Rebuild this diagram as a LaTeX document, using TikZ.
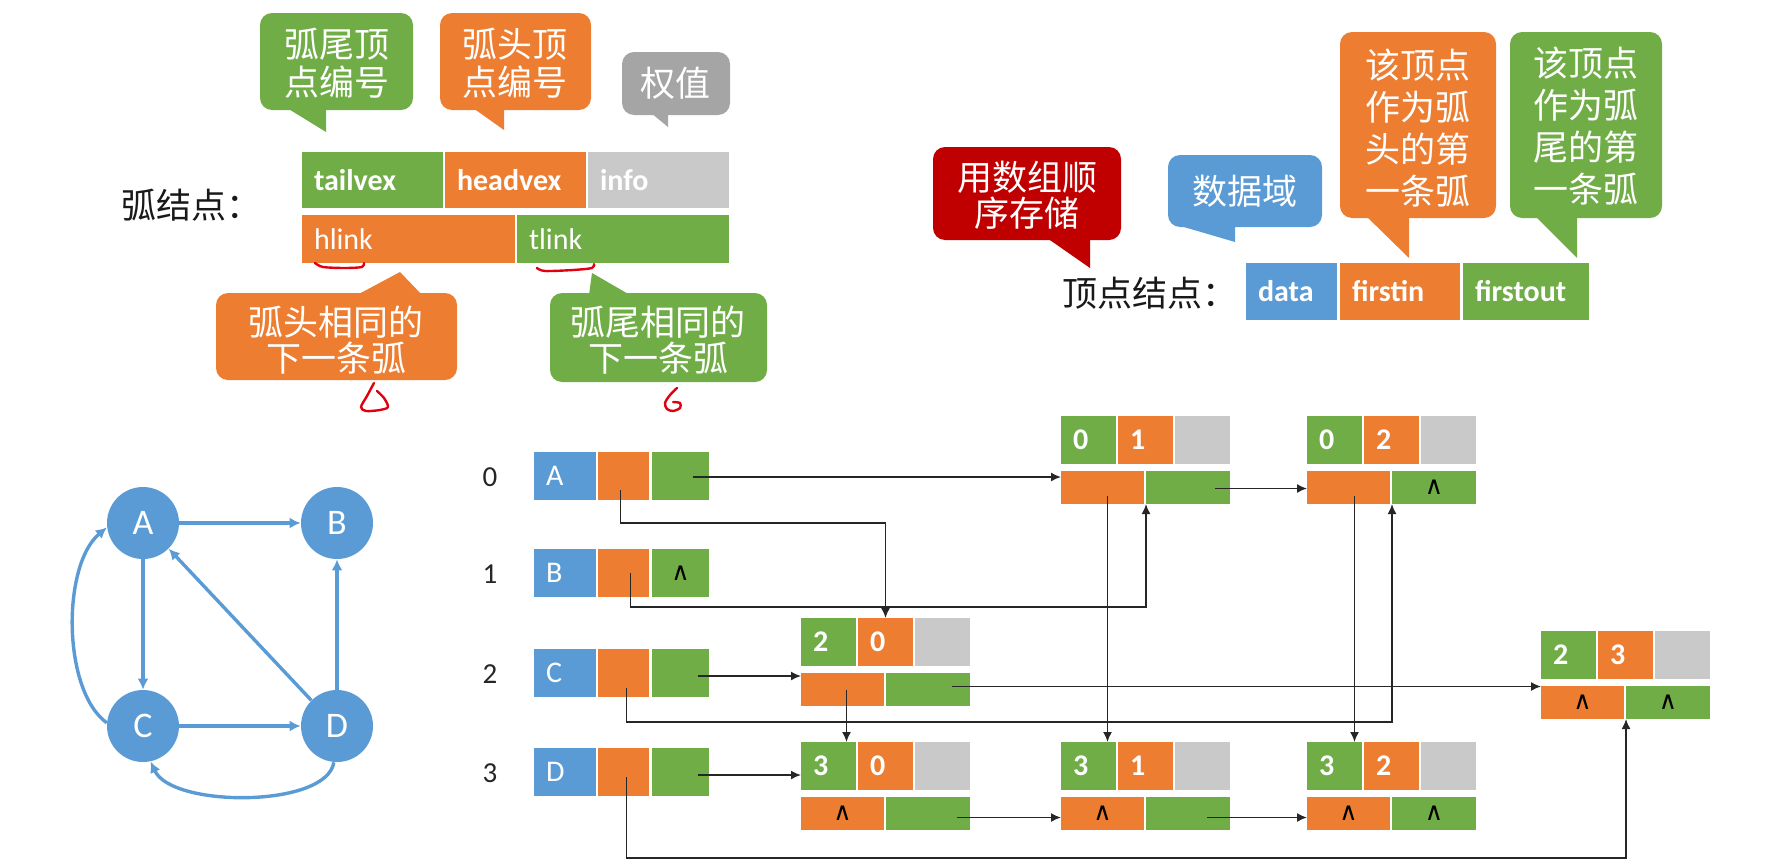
\documentclass[tikz,border=0pt]{standalone}
\usepackage{fontspec}
\setmainfont{Carlito}
\newfontfamily\cjk{Noto Sans CJK SC}
\newfontfamily\dejavu{DejaVu Sans}
\usetikzlibrary{arrows.meta,calc}
\definecolor{cgreen}{HTML}{70AD47}
\definecolor{corange}{HTML}{ED7D31}
\definecolor{cgray}{HTML}{C9C9C9}
\definecolor{cblue}{HTML}{5B9BD5}
\definecolor{cred}{HTML}{C00000}
\definecolor{cgraycall}{HTML}{A5A5A5}
\definecolor{cink}{HTML}{E00010}
\tikzset{
  cellsty/.style={anchor=north west, inner xsep=6pt, inner ysep=0pt, outer sep=0pt, text=white},
  lblB/.style={font=\fontsize{15}{18}\selectfont\bfseries},
  lbl/.style={font=\fontsize{15}{18}\selectfont},
  vlet/.style={font=\fontsize{15}{17}\selectfont},
  dig/.style={font=\fontsize{15}{17}\selectfont\bfseries},
  nul/.style={font=\dejavu\fontsize{12.5}{14}\selectfont, text=black},
  idx/.style={font=\fontsize{14.5}{17}\selectfont, text=black!85},
  link/.style={draw=black!85, line width=0.8pt, -{Latex[length=5pt,width=4.5pt]}},
  gnode/.style={circle, fill=cblue, minimum size=36pt, inner sep=0pt, text=white, font=\fontsize{18}{20}\selectfont},
  gedge/.style={draw=cblue, line width=1.7pt, -{Latex[length=5.5pt,width=5.5pt]}},
  ctext/.style={text=white, align=center, inner sep=0pt},
  cjkA/.style={font=\cjk\fontsize{17.5}{19}\selectfont},
  cjkB/.style={font=\cjk\fontsize{17.5}{21}\selectfont},
  cjkC/.style={font=\cjk\fontsize{17.5}{18}\selectfont},
  caption/.style={font=\cjk\fontsize{17.5}{20}\selectfont, text=black!90, anchor=west, inner sep=0pt},
  bubble/.style={rounded corners=6pt},
  redmark/.style={draw=cink, line width=1.2pt, line cap=round, line join=round},
}
\newcommand{\cellnode}[8]{%
  \pgfmathsetlengthmacro\cw{(#4)*0.5pt}%
  \pgfmathsetlengthmacro\ch{(#5)*0.5pt}%
  \pgfmathsetlengthmacro\tw{(#4)*0.5pt-12pt}%
  \node[cellsty, fill=#6, minimum width=\cw, minimum height=\ch, text width=\tw, #7] (#1) at (#2,#3) {#8};%
}
\newcommand{\nulsym}{∧}
\newcommand{\arcnode}[7]{%
  \cellnode{#1t}{#2}{#3}{55}{48}{cgreen}{dig,align=left}{#4}%
  \cellnode{#1h}{#2+57}{#3}{55}{48}{corange}{dig,align=left}{#5}%
  \cellnode{#1i}{#2+114}{#3}{55}{48}{cgray}{}{}%
  \cellnode{#1hl}{#2}{#3+55}{83}{33}{corange}{nul,align=center}{#6}%
  \cellnode{#1tl}{#2+85}{#3+55}{84}{33}{cgreen}{nul,align=center}{#7}%
}
\begin{document}
\begin{tikzpicture}[x=0.5pt,y=-0.5pt]
\useasboundingbox (0,0) rectangle (1786,867);

% ---------- callouts (top left) ----------
\fill[cgreen,bubble] (260,13) rectangle (413,110);
\fill[cgreen] (287,108) -- (326,132) -- (326,108) -- cycle;
\node[ctext,cjkA] (cbTail) at (337,63) {弧尾顶\\点编号};

\fill[corange,bubble] (440,13) rectangle (591,110);
\fill[corange] (473,108) -- (504,130) -- (504,108) -- cycle;
\node[ctext,cjkA] (cbHead) at (515,63) {弧头顶\\点编号};

\fill[cgraycall,bubble] (622,52) rectangle (730,115);
\fill[cgraycall] (651,113) -- (668,127) -- (668,113) -- cycle;
\node[ctext,cjkA] (cbInfo) at (675,83) {权值};

% ---------- arc node template ----------
\node[caption] (capArc) at (121,205) {弧结点：};
\cellnode{ttail}{302}{152}{141}{56}{cgreen}{lblB,align=left}{tailvex}
\cellnode{thead}{445}{152}{141}{56}{corange}{lblB,align=left}{headvex}
\cellnode{tinfo}{588}{152}{141}{56}{cgray}{lblB,align=left}{info}
\cellnode{thl}{302}{215}{213}{48}{corange}{lbl,align=left}{hlink}
\cellnode{ttl}{517}{215}{212}{48}{cgreen}{lbl,align=left}{tlink}

% red hand marks
\draw[redmark] plot[smooth] coordinates {(315,263) (323,267) (345,268) (362,267) (364,263)};
\draw[redmark] plot[smooth] coordinates {(537,268) (545,271) (573,270) (592,268) (594,264)};

% ---------- callouts (bottom left) ----------
\fill[corange,bubble] (216,293) rectangle (457,380);
\fill[corange] (357,295) -- (400,272) -- (422,295) -- cycle;
\node[ctext,cjkC] (cbHlink) at (336,340) {弧头相同的\\下一条弧};

\fill[cgreen,bubble] (550,293) rectangle (767,382);
\fill[cgreen] (589,295) -- (592,273) -- (630,295) -- cycle;
\node[ctext,cjkC] (cbTlink) at (658,340) {弧尾相同的\\下一条弧};

\draw[redmark] plot[smooth] coordinates {(374,383) (367,396) (361,407) (366,411) (380,410) (388,407) (384,398) (377,391)};
\draw[redmark] plot[smooth] coordinates {(677,388) (670,395) (665,403) (667,409) (673,411) (680,408) (680,403) (673,402)};

% ---------- callouts (top right) ----------
\fill[cred,bubble] (933,147) rectangle (1121,240);
\fill[cred] (1047,238) -- (1090,268) -- (1090,238) -- cycle;
\node[ctext,cjkC] (cbArr) at (1027,195) {用数组顺\\序存储};

\fill[cblue,bubble] (1168,155) rectangle (1322,227);
\fill[cblue] (1177,225) -- (1235,242) -- (1235,225) -- cycle;
\node[ctext,cjkA] (cbData) at (1245,191) {数据域};

\fill[corange,bubble] (1340,32) rectangle (1496,218);
\fill[corange] (1366,216) -- (1409,258) -- (1409,216) -- cycle;
\node[ctext,cjkB] (cbIn) at (1418,128) {该顶点\\作为弧\\头的第\\一条弧};

\fill[cgreen,bubble] (1510,32) rectangle (1662,218);
\fill[cgreen] (1535,216) -- (1577,258) -- (1577,216) -- cycle;
\node[ctext,cjkB] (cbOut) at (1586,126) {该顶点\\作为弧\\尾的第\\一条弧};

% ---------- vertex node template ----------
\node[caption] (capVex) at (1062,293) {顶点结点：};
\cellnode{tdata}{1246}{263}{91}{57}{cblue}{lblB,align=left}{data}
\cellnode{tfin}{1340}{263}{120}{57}{corange}{lblB,align=left}{firstin}
\cellnode{tfout}{1463}{263}{126}{57}{cgreen}{lblB,align=left}{firstout}

% ---------- graph ----------
\node[gnode] (A) at (143,523) {A};
\node[gnode] (B) at (337,523) {B};
\node[gnode] (C) at (143,726) {C};
\node[gnode] (D) at (337,726) {D};
\draw[gedge] (A) -- (B);
\draw[gedge] (A) -- (C);
\draw[gedge] (C) -- (D);
\draw[gedge] (D) -- (B);
\draw[gedge] (D.135) -- (A.315);
\draw[gedge] (C.175) .. controls (62,690) and (62,565) .. (A.187);
\draw[gedge] (D.265) .. controls (327,808) and (172,808) .. (C.282);

% ---------- vertex array ----------
\node[idx] (i0) at (490,477) {0};
\node[idx] (i1) at (490,574) {1};
\node[idx] (i2) at (490,674) {2};
\node[idx] (i3) at (490,773) {3};
\cellnode{vAd}{534}{452}{62}{48}{cblue}{vlet,align=left}{A}
\cellnode{vAin}{598}{452}{51}{48}{corange}{}{}
\cellnode{vAout}{652}{452}{57}{48}{cgreen}{nul,align=center}{}
\cellnode{vBd}{534}{549}{62}{48}{cblue}{vlet,align=left}{B}
\cellnode{vBin}{598}{549}{51}{48}{corange}{}{}
\cellnode{vBout}{652}{549}{57}{48}{cgreen}{nul,align=center}{\nulsym}
\cellnode{vCd}{534}{649}{62}{48}{cblue}{vlet,align=left}{C}
\cellnode{vCin}{598}{649}{51}{48}{corange}{}{}
\cellnode{vCout}{652}{649}{57}{48}{cgreen}{nul,align=center}{}
\cellnode{vDd}{534}{748}{62}{48}{cblue}{vlet,align=left}{D}
\cellnode{vDin}{598}{748}{51}{48}{corange}{}{}
\cellnode{vDout}{652}{748}{57}{48}{cgreen}{nul,align=center}{}

% ---------- arc nodes ----------
\arcnode{a01}{1061}{416}{0}{1}{}{}
\arcnode{a02}{1307}{416}{0}{2}{}{\nulsym}
\arcnode{a20}{801}{618}{2}{0}{}{}
\arcnode{a23}{1541}{631}{2}{3}{\nulsym}{\nulsym}
\arcnode{a30}{801}{742}{3}{0}{\nulsym}{}
\arcnode{a31}{1061}{742}{3}{1}{\nulsym}{}
\arcnode{a32}{1307}{742}{3}{2}{\nulsym}{\nulsym}

% ---------- links ----------
\coordinate (s1) at ($(vAin.center)+(-3,14)$);
\draw[link] (s1) -- ++(0,33) -| (a20h.north);
\coordinate (s2) at ($(vBin.center)+(7,0)$);
\draw[link] (s2) -- ++(0,34) -| (a01tl.south west);
\coordinate (s3) at ($(vCin.center)+(3,15)$);
\draw[link] (s3) -- ++(0,34) -| (a02tl.south west);
\coordinate (s4) at ($(vDin.center)+(3,5)$);
\draw[link] (s4) -- ++(0,81) -| (a23tl.south west);
\coordinate (s5) at ($(vAout.center)+(12,1)$);
\draw[link] (s5) -- (s5 -| a01hl.west);
\coordinate (s6) at ($(a01tl.center)+(27,1)$);
\draw[link] (s6) -- (s6 -| a02hl.west);
\coordinate (s7) at ($(a01hl.center)+(5,8)$);
\draw[link] (s7) -- (s7 |- a31t.north);
\coordinate (s8) at ($(a02hl.center)+(6,8)$);
\draw[link] (s8) -- (s8 |- a32t.north);
\coordinate (s9) at ($(vCout.center)+(17,3)$);
\draw[link] (s9) -- (s9 -| a20hl.west);
\coordinate (s10) at ($(a20hl.center)+(4,0)$);
\draw[link] (s10) -- (s10 |- a30t.north);
\coordinate (s11) at ($(a20tl.center)+(24,-3)$);
\draw[link] (s11) -- (s11 -| a23hl.west);
\coordinate (s12) at ($(vDout.center)+(17,3)$);
\draw[link] (s12) -- (s12 -| a30t.west);
\coordinate (s13) at ($(a30tl.center)+(29,4)$);
\draw[link] (s13) -- (s13 -| a31hl.west);
\coordinate (s14) at ($(a31tl.center)+(19,4)$);
\draw[link] (s14) -- (s14 -| a32hl.west);
\end{tikzpicture}
\end{document}
